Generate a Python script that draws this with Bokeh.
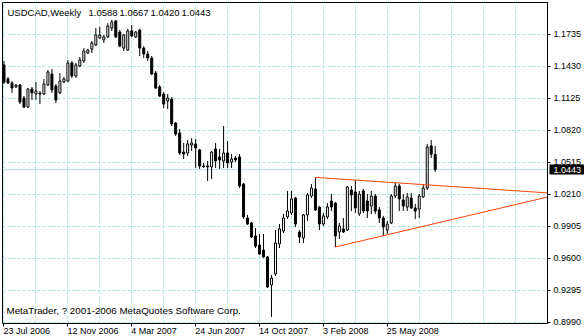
from bokeh.plotting import figure
from bokeh.models import (Range1d, FixedTicker, Label, PrintfTickFormatter, Span,
                          ColumnDataSource, LinearAxis)
from bokeh.core.properties import value
from bokeh.embed import file_html
from bokeh.resources import INLINE

symbol = "USDCAD"
period = "Weekly"
copyright_text = "MetaTrader, ? 2001-2006 MetaQuotes Software Corp."
tick_labels = ["23 Jul 2006", "12 Nov 2006", "4 Mar 2007", "24 Jun 2007",
               "14 Oct 2007", "3 Feb 2008", "25 May 2008"]
price_ticks = [0.8990, 0.9295, 0.9600, 0.9905, 1.0210, 1.0515,
               1.0820, 1.1125, 1.1430, 1.1735]

opens = [
    1.1440, 1.1306, 1.1268, 1.1230, 1.1249, 1.1125, 1.1039, 1.1211, 1.1163, 1.1173,
    1.1163, 1.1249, 1.1354, 1.1239, 1.1173, 1.1277, 1.1287, 1.1459, 1.1335, 1.1430,
    1.1478, 1.1554, 1.1592, 1.1630, 1.1697, 1.1678, 1.1707, 1.1792, 1.1859, 1.1754,
    1.1601, 1.1582, 1.1764, 1.1707, 1.1773, 1.1601, 1.1544, 1.1506, 1.1363, 1.1230,
    1.1163, 1.1096, 1.1115, 1.0887, 1.0791, 1.0610, 1.0601, 1.0677, 1.0687, 1.0630,
    1.0477, 1.0477, 1.0468, 1.0639, 1.0563, 1.0525, 1.0601, 1.0515, 1.0553, 1.0563,
    1.0305, 0.9981, 0.9934, 0.9810, 0.9724, 0.9676, 0.9610, 0.9343, 0.9448, 0.9734,
    0.9857, 0.9991, 1.0029, 1.0172, 0.9848, 0.9791, 1.0010, 1.0191, 1.0258, 1.0086,
    0.9924, 0.9991, 1.0143, 1.0124, 0.9848, 0.9877, 0.9867, 1.0248, 1.0229, 1.0020,
    1.0239, 1.0143, 1.0096, 1.0191, 1.0058, 0.9981, 0.9867, 0.9934, 1.0191, 1.0286,
    1.0153, 1.0086, 1.0172, 1.0077, 1.0067, 1.0182, 1.0267, 1.0668, 1.0588]

highs = [
    1.1478, 1.1325, 1.1287, 1.1258, 1.1258, 1.1144, 1.1220, 1.1230, 1.1277, 1.1192,
    1.1306, 1.1392, 1.1401, 1.1258, 1.1363, 1.1325, 1.1487, 1.1478, 1.1459, 1.1516,
    1.1601, 1.1592, 1.1668, 1.1792, 1.1802, 1.1726, 1.1840, 1.1869, 1.1869, 1.1773,
    1.1735, 1.1783, 1.1821, 1.1764, 1.1783, 1.1620, 1.1573, 1.1525, 1.1382, 1.1249,
    1.1182, 1.1163, 1.1134, 1.0896, 1.0829, 1.0696, 1.0725, 1.0744, 1.0734, 1.0639,
    1.0506, 1.0525, 1.0620, 1.0696, 1.0639, 1.0858, 1.0715, 1.0591, 1.0572, 1.0591,
    1.0315, 1.0010, 0.9943, 0.9886, 0.9829, 0.9829, 0.9619, 0.9438, 0.9867, 0.9924,
    1.0020, 1.0239, 1.0239, 1.0182, 0.9867, 1.0020, 1.0220, 1.0305, 1.0368, 1.0096,
    1.0029, 1.0124, 1.0210, 1.0134, 0.9934, 0.9981, 1.0286, 1.0286, 1.0344, 1.0239,
    1.0258, 1.0210, 1.0239, 1.0210, 1.0086, 1.0001, 0.9953, 1.0210, 1.0315, 1.0305,
    1.0210, 1.0220, 1.0220, 1.0115, 1.0210, 1.0305, 1.0687, 1.0725, 1.0667]

lows = [
    1.1258, 1.1258, 1.1173, 1.1220, 1.1067, 1.1029, 1.1029, 1.1106, 1.1106, 1.1067,
    1.1154, 1.1239, 1.1173, 1.1077, 1.1163, 1.1268, 1.1277, 1.1316, 1.1316, 1.1420,
    1.1459, 1.1544, 1.1554, 1.1620, 1.1687, 1.1649, 1.1697, 1.1764, 1.1697, 1.1611,
    1.1573, 1.1573, 1.1707, 1.1697, 1.1525, 1.1506, 1.1478, 1.1344, 1.1211, 1.1134,
    1.1029, 1.1020, 1.0858, 1.0763, 1.0582, 1.0544, 1.0572, 1.0620, 1.0458, 1.0449,
    1.0458, 1.0334, 1.0353, 1.0458, 1.0449, 1.0458, 1.0458, 1.0458, 1.0515, 1.0267,
    0.9972, 0.9915, 0.9791, 0.9695, 0.9629, 0.9600, 0.9314, 0.9038, 0.9428, 0.9695,
    0.9838, 0.9972, 1.0010, 0.9896, 0.9743, 0.9743, 0.9953, 1.0172, 1.0048, 0.9867,
    0.9905, 0.9972, 1.0048, 0.9705, 0.9781, 0.9838, 0.9857, 1.0048, 1.0029, 1.0001,
    1.0029, 0.9981, 1.0020, 1.0020, 0.9934, 0.9810, 0.9829, 0.9924, 1.0172, 1.0048,
    1.0048, 1.0048, 1.0067, 0.9972, 0.9981, 1.0172, 1.0248, 1.0553, 1.0420]

closes = [
    1.1277, 1.1268, 1.1220, 1.1249, 1.1087, 1.1039, 1.1211, 1.1173, 1.1192, 1.1163,
    1.1258, 1.1373, 1.1201, 1.1106, 1.1287, 1.1306, 1.1459, 1.1335, 1.1440, 1.1487,
    1.1573, 1.1582, 1.1649, 1.1726, 1.1726, 1.1707, 1.1811, 1.1849, 1.1707, 1.1620,
    1.1726, 1.1764, 1.1716, 1.1754, 1.1601, 1.1544, 1.1506, 1.1354, 1.1220, 1.1144,
    1.1067, 1.1125, 1.0877, 1.0782, 1.0601, 1.0591, 1.0687, 1.0696, 1.0649, 1.0477,
    1.0472, 1.0468, 1.0610, 1.0525, 1.0534, 1.0601, 1.0506, 1.0544, 1.0534, 1.0286,
    0.9991, 0.9924, 0.9800, 0.9714, 0.9638, 0.9610, 0.9324, 0.9409, 0.9743, 0.9877,
    0.9981, 1.0048, 1.0163, 0.9924, 0.9800, 1.0010, 1.0201, 1.0267, 1.0058, 0.9924,
    1.0001, 1.0086, 1.0086, 0.9810, 0.9905, 0.9848, 1.0277, 1.0201, 1.0077, 1.0210,
    1.0048, 1.0048, 1.0191, 1.0048, 0.9981, 0.9896, 0.9924, 1.0191, 1.0286, 1.0163,
    1.0096, 1.0182, 1.0077, 1.0048, 1.0191, 1.0267, 1.0658, 1.0590, 1.0443]

# trend line anchors: (bar index, price)
upper_trend_bars = [78, 136]
upper_trend_prices = [1.0368, 1.0221]
lower_trend_bars = [83, 136]
lower_trend_prices = [0.9705, 1.0180]

assert len(opens) == len(highs) == len(lows) == len(closes)

# ---------------- layout constants ----------------
FONT = "Liberation Sans"
GRID = "#b0e2e6"
TREND = "#ff4500"
W, H = 584, 336
LEFT, TOP, RIGHT, BOTTOM = 2, 2, 36, 13
frame_w = W - LEFT - RIGHT
frame_h = H - TOP - BOTTOM
px_per_bar = 4
x_start = -0.375
x_end = x_start + frame_w / px_per_bar
price_step = price_ticks[1] - price_ticks[0]
px_per_price = 32 / price_step
y_lo = price_ticks[0] - 1.5 / px_per_price
y_hi = y_lo + frame_h / px_per_price

n = len(opens)
bars = list(range(n))
src = ColumnDataSource(dict(
    x=bars, o=opens, h=highs, l=lows, c=closes,
    top=[max(o, c) for o, c in zip(opens, closes)],
    bottom=[min(o, c) for o, c in zip(opens, closes)],
    fill=["white" if c > o else "black" for o, c in zip(opens, closes)],
))

p = figure(width=W, height=H, x_range=Range1d(x_start, x_end), y_range=Range1d(y_lo, y_hi),
           y_axis_location="right", toolbar_location=None, output_backend="svg",
           min_border_left=LEFT, min_border_top=TOP, min_border_right=RIGHT,
           min_border_bottom=BOTTOM)
p.background_fill_color = "white"
p.border_fill_color = "white"
p.outline_line_color = "black"
p.outline_line_alpha = 1.0
p.outline_line_width = 1

# grids
p.xgrid.ticker = FixedTicker(ticks=list(range(0, n + 40, 8)))
p.ygrid.ticker = FixedTicker(ticks=price_ticks)
for g in (p.xgrid, p.ygrid):
    g.grid_line_color = GRID
    g.grid_line_dash = "3 2"
    g.grid_line_width = 1

# x axis: tick marks only; the date texts start at their tick (drawn below)
date_ticks = [16 * k for k in range(len(tick_labels))]
p.xaxis.ticker = FixedTicker(ticks=date_ticks)
p.xaxis.major_label_text_color = None
p.xaxis.major_label_standoff = 0
p.xaxis.major_tick_out = 3
p.xaxis.major_tick_in = 0
p.xaxis.minor_tick_out = 0
p.xaxis.minor_tick_in = 0
p.xaxis.axis_line_color = "black"
p.xaxis.major_tick_line_color = "black"

# y axis (right)
p.yaxis.ticker = FixedTicker(ticks=price_ticks)
p.yaxis.formatter = PrintfTickFormatter(format="%.4f")
p.yaxis.major_label_text_font = FONT
p.yaxis.major_label_text_font_size = "9px"
p.yaxis.major_label_text_color = "black"
p.yaxis.major_label_standoff = 3
p.yaxis.major_tick_out = 3
p.yaxis.major_tick_in = 0
p.yaxis.minor_tick_out = 0
p.yaxis.minor_tick_in = 0
p.yaxis.axis_line_color = "black"
p.yaxis.major_tick_line_color = "black"

# last price line
last_price = closes[-1]
p.add_layout(Span(location=last_price, dimension="width", line_color=GRID,
                  line_width=1, level="underlay"))

# current-price marker on the price scale: an extra right axis whose single tick
# is drawn inwards as a thick black bar, with its white label pulled back over it
price_axis = LinearAxis(ticker=FixedTicker(ticks=[last_price]),
                        formatter=PrintfTickFormatter(format="%.4f"),
                        axis_line_color=None, major_tick_out=0, major_tick_in=35,
                        major_tick_line_color="black", major_tick_line_width=10,
                        minor_tick_out=0, minor_tick_in=0,
                        major_label_standoff=-31, major_label_text_color="white",
                        major_label_text_font=FONT, major_label_text_font_size="9px")
p.add_layout(price_axis, "right")

# candles
p.segment(x0="x", y0="l", x1="x", y1="h", source=src, line_color="black", line_width=1)
p.vbar(x="x", width=0.5, top="top", bottom="bottom", fill_color="fill",
       line_color="black", line_width=1, source=src)

# trend lines (rays to the right edge)
def ray(bx, py):
    slope = (py[1] - py[0]) / (bx[1] - bx[0])
    return [bx[0], x_end], [py[0], py[0] + slope * (x_end - bx[0])]

for bx, py in ((upper_trend_bars, upper_trend_prices), (lower_trend_bars, lower_trend_prices)):
    xs, ys = ray(bx, py)
    p.line(xs, ys, line_color=TREND, line_width=1)

# date texts under the axis, left-anchored at their tick
date_y = y_lo - 7.5 / px_per_price
p.text(x=date_ticks, y=[date_y] * len(date_ticks), text=tick_labels, level="overlay",
       text_font=value(FONT), text_font_size="9px", text_color="black",
       text_align="left", text_baseline="alphabetic", x_offset=-0.5)

# header texts
header_y = frame_h - 10
p.add_layout(Label(x=5, y=header_y, x_units="screen", y_units="screen",
                   text=f"{symbol},{period}", text_font=FONT, text_font_size="9.5px",
                   text_color="black", text_baseline="alphabetic", text_align="left"))
for k, v in enumerate([opens[-1], highs[-1], lows[-1], closes[-1]]):
    p.add_layout(Label(x=86 + 31 * k, y=header_y, x_units="screen", y_units="screen",
                       text=f"{v:.4f}", text_font=FONT, text_font_size="9.5px",
                       text_color="black", text_baseline="alphabetic", text_align="left"))

# copyright
p.add_layout(Label(x=4, y=13, x_units="screen", y_units="screen", text=copyright_text,
                   text_font=FONT, text_font_size="9.8px", text_color="black",
                   text_baseline="alphabetic", text_align="left"))

open("out.html", "w").write(file_html(p, INLINE))
